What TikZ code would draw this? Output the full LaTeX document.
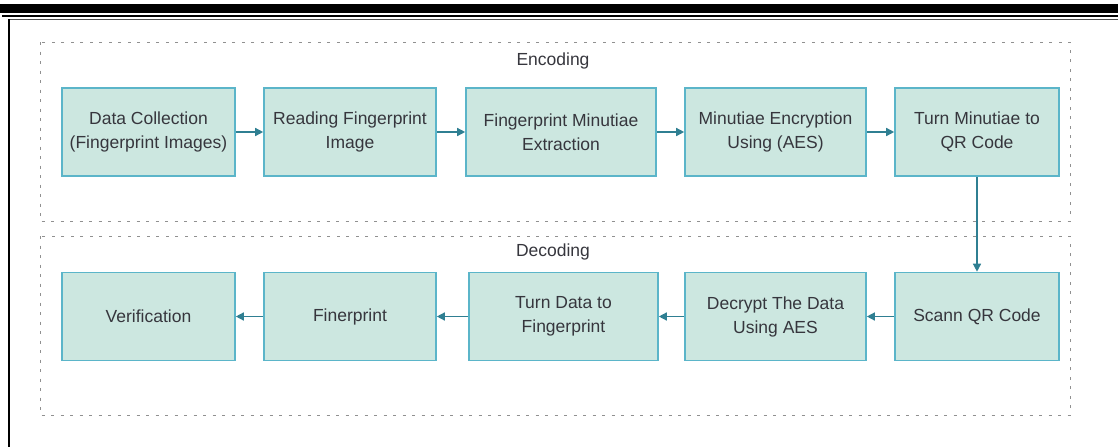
\documentclass[tikz,border=0pt]{standalone}
\usepackage{fontspec}
\setmainfont{Liberation Sans}
\usepackage{xcolor}
\usetikzlibrary{arrows.meta}

\definecolor{boxfill}{HTML}{CCE7E0}
\definecolor{boxline}{HTML}{5BB5C9}
\definecolor{arrowcol}{HTML}{2F7F92}
\definecolor{textcol}{HTML}{36363D}
\definecolor{groupline}{HTML}{909090}

\tikzset{
	stage/.style = {draw = boxline, line width = 1.6pt, fill = boxfill, text = textcol,
		align = center, minimum height = 88pt, inner sep = 0pt,
		font = \fontsize{17.5}{24}\selectfont},
	flow/.style = {arrowcol, line width = 1.4pt, -{Triangle[length = 8pt, width = 8pt]}},
	group/.style = {draw = groupline, line width = 1pt, dash pattern = on 3pt off 6.5pt},
	grouplabel/.style = {text = textcol, font = \fontsize{17.5}{24}\selectfont}
}

\begin{document}
\begin{tikzpicture}[x = 1pt, y = -1pt]
		%page size
		\useasboundingbox (0,0) rectangle (1118,447);
		
		%page rules
		\fill [black] (0,4) rectangle (1118,13);
		\fill [black] (2,14.5) rectangle (1118,16.5);
		\draw [black!70, line width = 1.2pt] (9,19.5) -- (1118,19.5);
		\draw [black, line width = 2.5pt] (9,19) -- (9,447);
		
		%groups
		\draw [group] (40,42) rectangle (1070,221);
		\draw [group] (40,236) rectangle (1070,415);
		\node [grouplabel] (enc) at (553,61) {Encoding};
		\node [grouplabel] (dec) at (553,252) {Decoding};
		
		%encoding stages
		\node [stage, minimum width = 173pt] (collect) at (148.5,132) {Data Collection\\(Fingerprint Images)};
		\node [stage, minimum width = 172pt] (read) at (350,132) {Reading Fingerprint\\Image};
		\node [stage, minimum width = 190pt] (extract) at (561,132) {Fingerprint Minutiae\\Extraction};
		\node [stage, minimum width = 181pt] (encrypt) at (775.5,132) {Minutiae Encryption\\Using (AES)};
		\node [stage, minimum width = 164pt] (toqr) at (977,132) {Turn Minutiae to\\QR Code};
		
		%decoding stages
		\node [stage, minimum width = 164pt] (scan) at (977,316.5) {Scann QR Code};
		\node [stage, minimum width = 181pt] (decrypt) at (775.5,316.5) {Decrypt The Data\\Using AES};
		\node [stage, minimum width = 189pt] (todata) at (563.5,316.5) {Turn Data to\\Fingerprint};
		\node [stage, minimum width = 172pt] (finger) at (350,316.5) {Finerprint};
		\node [stage, minimum width = 173pt] (verify) at (148.5,316.5) {Verification};
		
		%arrows
		\draw [flow] (collect) -- (read);
		\draw [flow] (read) -- (extract);
		\draw [flow] (extract) -- (encrypt);
		\draw [flow] (encrypt) -- (toqr);
		\draw [flow] (toqr) -- (scan);
		\draw [flow] (scan) -- (decrypt);
		\draw [flow] (decrypt) -- (todata);
		\draw [flow] (todata) -- (finger);
		\draw [flow] (finger) -- (verify);
	\end{tikzpicture}
\end{document}
